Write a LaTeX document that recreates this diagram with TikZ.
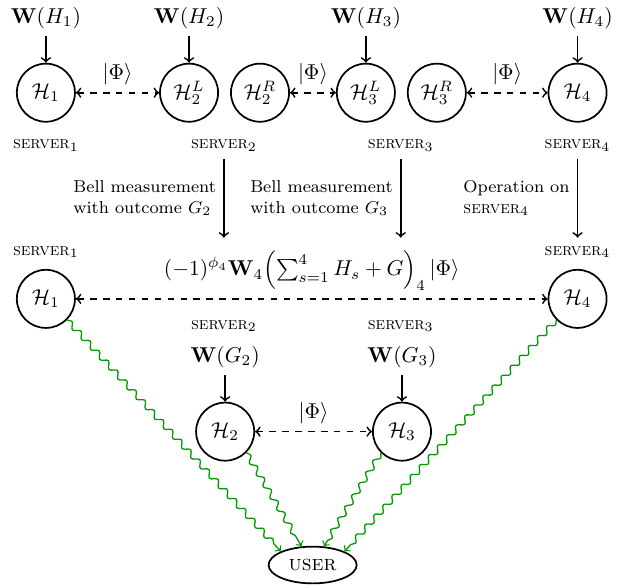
\documentclass[tikz,border=0pt]{standalone}
\usetikzlibrary{shapes.geometric,decorations.pathmorphing}

\tikzset{
    qnode/.style={draw, circle, thick, minimum size=0.95cm, inner sep=0pt},
    tag/.style={font=\footnotesize},
    epr/.style={<->, dashed, thick},
    feed/.style={->, thick},
    send/.style={->, semithick, green!60!black, decorate, decoration={snake, amplitude=.45mm, segment length=2.2mm, post length=1mm}},
}

\begin{document}
\begin{tikzpicture}
        \useasboundingbox (0,0) rectangle (10.33,9.575);
        \def\toprow{8.06}
        \def\midrow{4.69}
        \def\botrow{2.52}

        % first round: every server holds its share
        \node[qnode] (h1) at (0.75,\toprow) {$\mathcal{H}_1$};
        \node[qnode] (h2l) at (3.09,\toprow) {$\mathcal{H}_2^L$};
        \node[qnode] (h2r) at (4.25,\toprow) {$\mathcal{H}_2^R$};
        \node[qnode] (h3l) at (5.98,\toprow) {$\mathcal{H}_3^L$};
        \node[qnode] (h3r) at (7.14,\toprow) {$\mathcal{H}_3^R$};
        \node[qnode] (h4) at (9.44,\toprow) {$\mathcal{H}_4$};

        \node (w1) at (0.75,9.28) {$\mathbf{W}(H_1)$};
        \node (w2) at (3.09,9.28) {$\mathbf{W}(H_2)$};
        \node (w3) at (5.98,9.28) {$\mathbf{W}(H_3)$};
        \node (w4) at (9.44,9.28) {$\mathbf{W}(H_4)$};
        \draw[feed] (w1) -- (h1);
        \draw[feed] (w2) -- (h2l);
        \draw[feed] (w3) -- (h3l);
        \draw[feed] (w4) -- (h4);

        \draw[epr] (h1) -- (h2l) node[midway, above] {$|\Phi\rangle$};
        \draw[epr] (h2r) -- (h3l) node[midway, above] {$|\Phi\rangle$};
        \draw[epr] (h3r) -- (h4) node[midway, above] {$|\Phi\rangle$};

        \node[tag] (s1) at (0.75,7.20) {\textsc{server}$_1$};
        \node[tag] (s2) at (3.66,7.20) {\textsc{server}$_2$};
        \node[tag] (s3) at (6.55,7.20) {\textsc{server}$_3$};
        \node[tag] (s4) at (9.44,7.20) {\textsc{server}$_4$};

        \coordinate (e2) at (3.66,5.69);
        \coordinate (e3) at (6.55,5.69);
        \coordinate (e4) at (9.44,5.69);
        \draw[feed] (s2) -- (e2) node[midway, left, tag, align=left] {Bell measurement\\with outcome $G_2$};
        \draw[feed] (s3) -- (e3) node[midway, left, tag, align=left] {Bell measurement\\with outcome $G_3$};
        \draw[feed] (s4) -- (e4) node[midway, left, tag, align=left] {Operation on\\\textsc{server}$_4$};

        % second round
        \node[qnode] (m1) at (0.75,\midrow) {$\mathcal{H}_1$};
        \node[qnode] (m4) at (9.44,\midrow) {$\mathcal{H}_4$};
        \node[tag] (n1) at (0.75,5.46) {\textsc{server}$_1$};
        \node[tag] (n4) at (9.44,5.46) {\textsc{server}$_4$};
        \draw[epr] (m1) -- (m4) node[midway, above] {$(-1)^{\phi_4}\mathbf{W}_4\mathopen{}\left(\sum_{s=1}^4 H_s+G\right)_4|\Phi\rangle$};
        \node[tag] (n2) at (3.66,4.25) {\textsc{server}$_2$};
        \node[tag] (n3) at (6.55,4.25) {\textsc{server}$_3$};

        \node[qnode] (g2) at (3.68,\botrow) {$\mathcal{H}_2$};
        \node[qnode] (g3) at (6.57,\botrow) {$\mathcal{H}_3$};
        \node (wg2) at (3.68,3.74) {$\mathbf{W}(G_2)$};
        \node (wg3) at (6.57,3.74) {$\mathbf{W}(G_3)$};
        \draw[feed] (wg2) -- (g2);
        \draw[feed] (wg3) -- (g3);
        \draw[epr] (g2) -- (g3) node[midway, above] {$|\Phi\rangle$};

        % answers go to the user
        \node[draw, ellipse, thick] (user) at (5.11,0.34) {\textsc{user}};
        \draw[send] (m1.south east) -- (user.north west);
        \draw[send] (g2.south east) -- (user);
        \draw[send] (g3.south west) -- (user);
        \draw[send] (m4.south west) -- (user.north east);
\end{tikzpicture}
\end{document}
